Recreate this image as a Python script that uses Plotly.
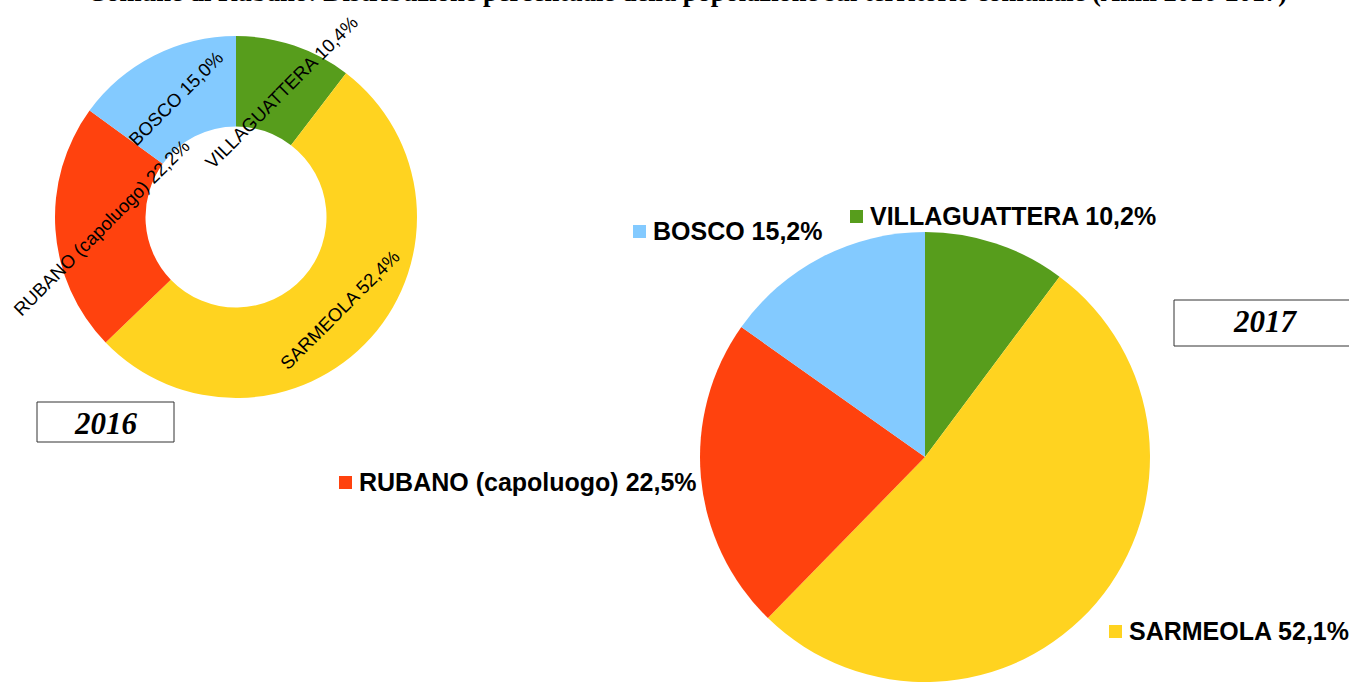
import plotly.graph_objects as go

W, H = 1349, 682

categories = ["VILLAGUATTERA", "SARMEOLA", "RUBANO (capoluogo)", "BOSCO"]
values_2016 = [10.4, 52.4, 22.2, 15.0]
values_2017 = [10.2, 52.1, 22.5, 15.2]
colors = ["#579D1C", "#FFD320", "#FF420E", "#83CAFF"]
years = ["2016", "2017"]
title_text = "Comune di Rubano: Distribuzione percentuale della popolazione sul territorio comunale (Anni 2016-2017)"


def px(x):
    return x / W


def py(y):
    return 1 - y / H


def fmt(v):
    return f"{v:.1f}".replace(".", ",") + "%"


fig = go.Figure()
fig.add_trace(go.Pie(
    labels=categories, values=values_2016, hole=0.5, sort=False,
    direction="clockwise", rotation=0, textinfo="none",
    marker=dict(colors=colors, line=dict(width=0)),
    domain=dict(x=[px(55), px(417)], y=[py(398), py(36)]),
    showlegend=False, hoverinfo="label+percent",
))
fig.add_trace(go.Pie(
    labels=categories, values=values_2017, sort=False,
    direction="clockwise", rotation=0, textinfo="none",
    marker=dict(colors=colors, line=dict(width=0)),
    domain=dict(x=[px(699), px(1151)], y=[0, py(232)]),
    showlegend=False, hoverinfo="label+percent",
))

annotations = []
shapes = []

# 2016 donut labels (rotated)
donut_pos = [(281, 92), (339, 310), (102, 228), (176, 99)]
for cat, v, (x, y) in zip(categories, values_2016, donut_pos):
    annotations.append(dict(
        x=px(x), y=py(y), xref="paper", yref="paper", showarrow=False,
        text=f"{cat} {fmt(v)}", textangle=-45, xanchor="center", yanchor="middle",
        font=dict(family="Liberation Sans, Arial, sans-serif", size=18.5, color="black"),
    ))

# 2017 outside labels with square keys
lab_pos = [(868, 216), (1127, 631), (357, 482), (651, 231)]
for cat, v, c, (x, y) in zip(categories, values_2017, colors, lab_pos):
    annotations.append(dict(
        x=px(x), y=py(y), xref="paper", yref="paper", showarrow=False,
        text=f"<b>{cat} {fmt(v)}</b>", xanchor="left", yanchor="middle",
        font=dict(family="Liberation Sans, Arial, sans-serif", size=25, color="black"),
    ))
    shapes.append(dict(
        type="rect", xref="paper", yref="paper",
        x0=px(x - 18), x1=px(x - 5), y0=py(y + 7), y1=py(y - 6),
        fillcolor=c, line=dict(width=0),
    ))

# Year boxes
box_specs = [(37, 402, 174, 442), (1174, 300, 1360, 346)]
box_text_pos = [(106, 423), (1265, 321)]
for yr, (x0, y0, x1, y1), (tx, ty) in zip(years, box_specs, box_text_pos):
    shapes.append(dict(
        type="rect", xref="paper", yref="paper",
        x0=px(x0), x1=px(x1), y0=py(y1), y1=py(y0),
        fillcolor="white", line=dict(color="#333333", width=1),
    ))
    annotations.append(dict(
        x=px(tx), y=py(ty), xref="paper", yref="paper", showarrow=False,
        text=f"<b><i>{yr}</i></b>", xanchor="center", yanchor="middle",
        font=dict(family="Liberation Serif, Times New Roman, serif", size=31, color="black"),
    ))

# Title (clipped at top as in reference)
annotations.append(dict(
    x=px(687), y=py(-8), xref="paper", yref="paper", showarrow=False,
    text=f"<b>{title_text}</b>", xanchor="center", yanchor="middle",
    font=dict(family="Liberation Serif, Times New Roman, serif", size=26.5, color="black"),
))

fig.update_layout(
    width=W, height=H, margin=dict(l=0, r=0, t=0, b=0),
    paper_bgcolor="white", plot_bgcolor="white",
    annotations=annotations, shapes=shapes,
)

fig.write_html(
    "out.html",
    config={"displayModeBar": False},
    post_script="document.body.style.margin='0';document.body.style.overflow='hidden';",
)
